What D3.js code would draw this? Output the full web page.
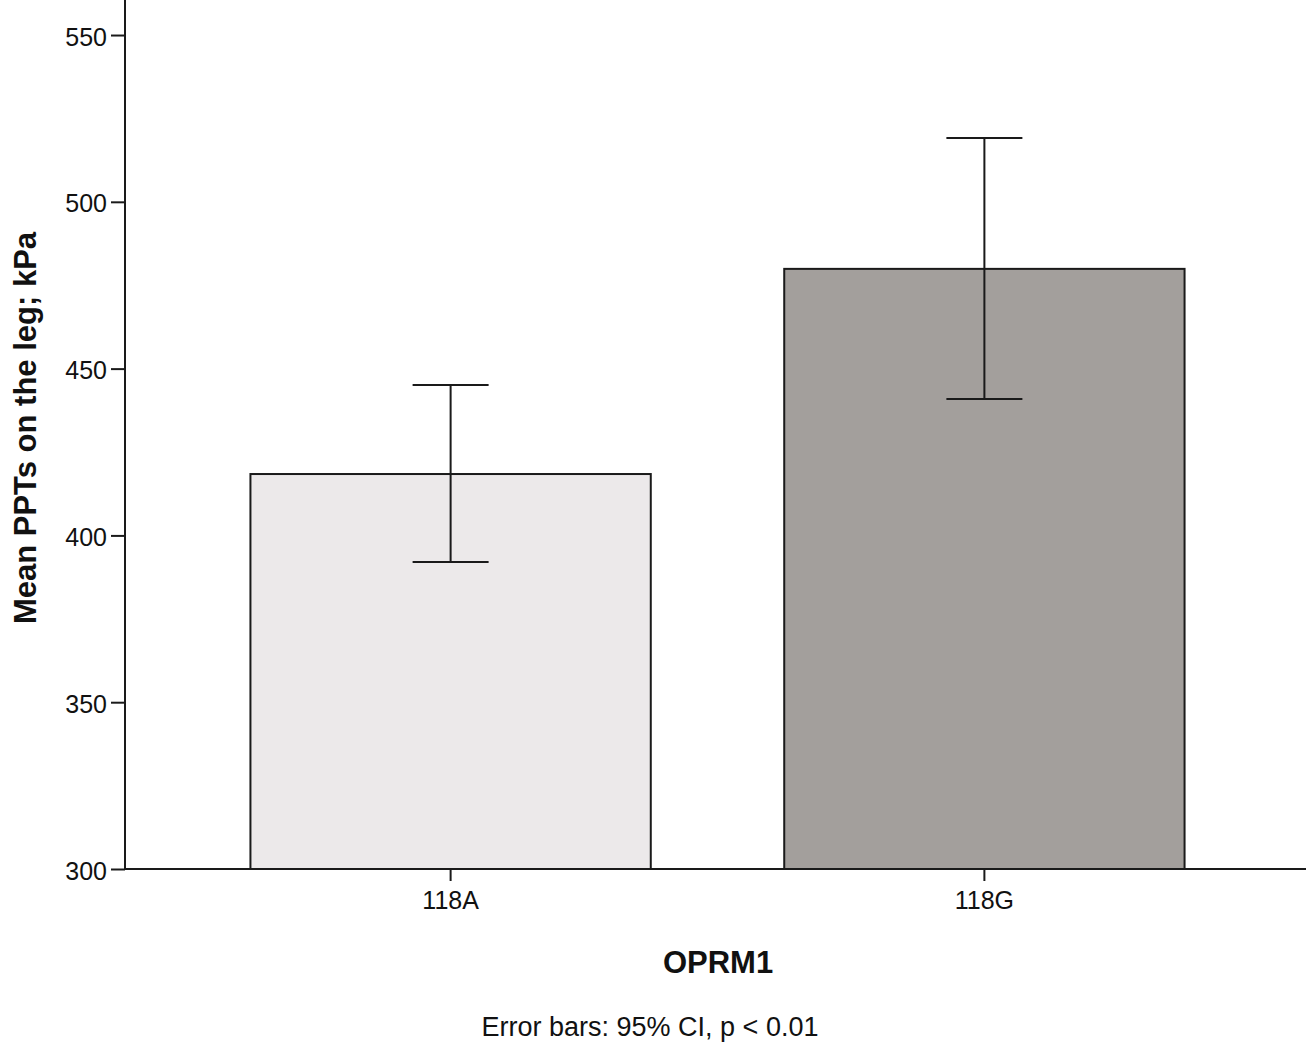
<!DOCTYPE html>
<html>
<head>
<meta charset="utf-8">
<script src="https://cdn.jsdelivr.net/npm/d3@7"></script>
<style>
  body { margin: 0; background: #fff; }
  text { font-family: "Liberation Sans", Arial, sans-serif; fill: #111; }
</style>
</head>
<body>
<svg id="chart" width="1306" height="1062"></svg>
<script>
const groups = ['118A', '118G'];
const means = [418.4, 479.9];
const ciLow = [392.0, 440.9];
const ciHigh = [445.1, 519.1];
const barColors = ['#ece9ea', '#a39f9c'];
const yTicks = [300, 350, 400, 450, 500, 550];

const svg = d3.select('#chart');
const axisX = 125, baseY = 869;

const y = d3.scaleLinear().domain([300, 560.5]).range([baseY, 0]);
const x = d3.scaleBand().domain(groups).range([axisX, 1310])
  .paddingInner(0.25).paddingOuter(0.235);

const data = groups.map((g, i) => ({ g, m: means[i], lo: ciLow[i], hi: ciHigh[i], c: barColors[i] }));

svg.selectAll('rect.bar').data(data).enter().append('rect')
  .attr('class', 'bar')
  .attr('x', d => x(d.g))
  .attr('width', x.bandwidth())
  .attr('y', d => y(d.m))
  .attr('height', d => y(300) - y(d.m))
  .attr('fill', d => d.c)
  .attr('stroke', '#1a1a1a')
  .attr('stroke-width', 2);

const cx = d => x(d.g) + x.bandwidth() / 2;
const err = svg.append('g').attr('stroke', '#1a1a1a').attr('stroke-width', 2);
data.forEach(d => {
  err.append('line').attr('x1', cx(d)).attr('x2', cx(d)).attr('y1', y(d.lo)).attr('y2', y(d.hi));
  [d.lo, d.hi].forEach(v => err.append('line')
    .attr('x1', cx(d) - 38).attr('x2', cx(d) + 38).attr('y1', y(v)).attr('y2', y(v)));
});

const yAxis = svg.append('g').attr('transform', `translate(${axisX},0)`)
  .call(d3.axisLeft(y).tickValues(yTicks).tickSize(14).tickPadding(4));
yAxis.select('.domain').remove();
yAxis.append('line').attr('x1', 0).attr('x2', 0).attr('y1', 0).attr('y2', baseY)
  .attr('stroke', '#1a1a1a').attr('stroke-width', 2);
yAxis.selectAll('.tick line').attr('stroke', '#1a1a1a').attr('stroke-width', 2);
yAxis.selectAll('.tick text').attr('font-size', 25).attr('fill', '#111').attr('dy', '0.4em');

const xAxis = svg.append('g').attr('transform', `translate(0,${baseY})`)
  .call(d3.axisBottom(x).tickSize(12).tickPadding(10));
xAxis.select('.domain').remove();
xAxis.append('line').attr('x1', axisX).attr('x2', 1306).attr('y1', 0).attr('y2', 0)
  .attr('stroke', '#1a1a1a').attr('stroke-width', 2);
xAxis.selectAll('.tick line').attr('stroke', '#1a1a1a').attr('stroke-width', 2);
xAxis.selectAll('.tick text').attr('font-size', 25).attr('fill', '#111');

svg.append('text').attr('x', 718).attr('y', 973).attr('text-anchor', 'middle')
  .attr('font-size', 31).attr('font-weight', 'bold').text('OPRM1');

svg.append('text').attr('transform', 'translate(36,428) rotate(-90)').attr('text-anchor', 'middle')
  .attr('font-size', 31).attr('font-weight', 'bold').text('Mean PPTs on the leg; kPa');

svg.append('text').attr('x', 650).attr('y', 1036).attr('text-anchor', 'middle')
  .attr('font-size', 27).text('Error bars: 95% CI, p < 0.01');
</script>
</body>
</html>
